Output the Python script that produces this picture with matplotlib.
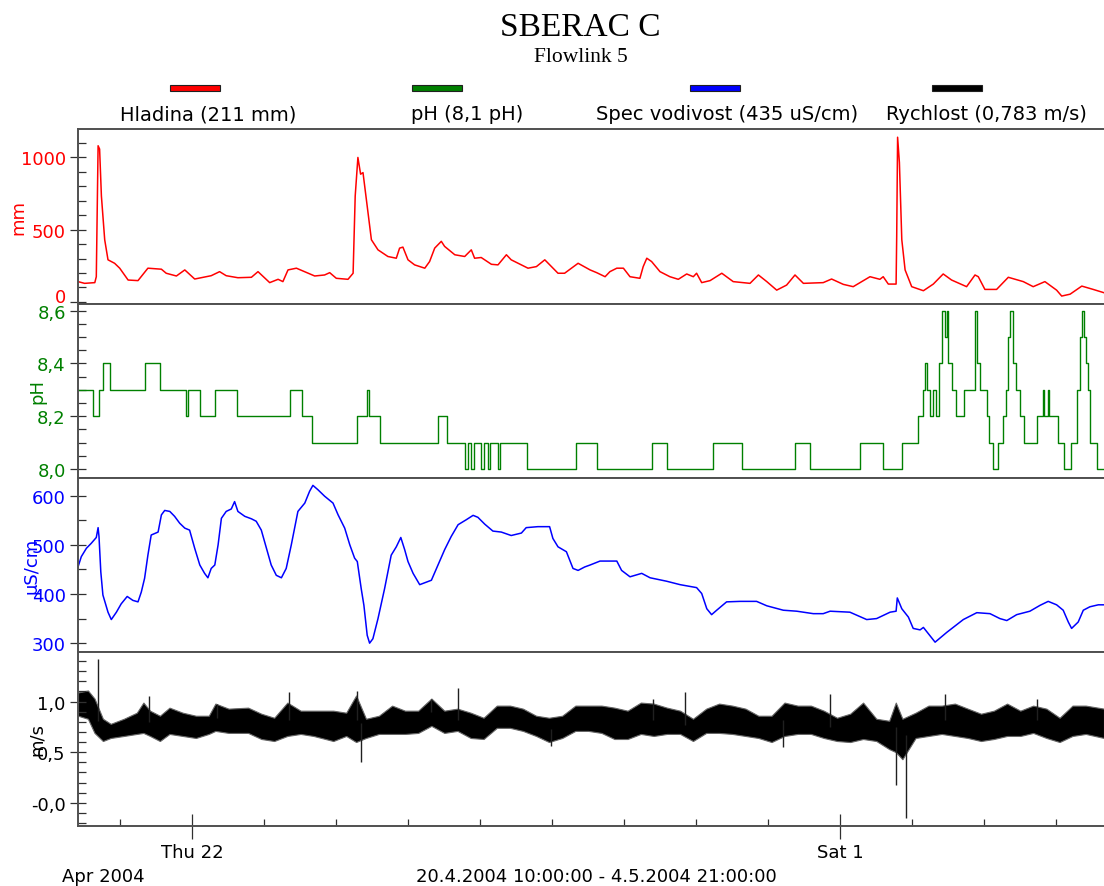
import numpy as np
import pandas as pd
import matplotlib as mpl; mpl.use('Agg')
import matplotlib.pyplot as plt
import matplotlib.dates as mdates
import matplotlib.transforms as mtrans
from matplotlib.ticker import FixedLocator, MultipleLocator, FuncFormatter
from matplotlib.patches import Rectangle

plt.rcParams['font.family'] = ['DejaVu Sans']
RED, GRN, BLU, BLK = '#ff0000', '#008000', '#0000ff', '#000000'
SPN = '#505050'
START = pd.Timestamp('2004-04-20 10:00')

# Hladina (mm): hours since start / value
mm_h = [0, 2.2, 5.6, 6.1, 6.7, 7.2, 7.8, 8.9, 10, 12.2, 13.9, 16.7, 20, 23.3, 27.8, 29.4, 32.8, 35.6, 38.9,
        44.4, 47.2, 49.4, 53.3, 57.8, 60, 63.9, 66.7, 68.3, 70, 72.8, 76.7, 78.9, 82.2, 83.9, 86.1, 90, 91.7,
        92.4, 93.3, 94.2, 95, 96.7, 97.8, 100, 103.3, 106.1, 107.2, 108.3, 110, 112.2, 115.6, 117.2, 118.9,
        121.1, 122.2, 125.6, 128.9, 131.1, 132.2, 134.4, 137.8, 140, 142.8, 144.4, 147.8, 150, 152.8, 155.6,
        160, 162.2, 166.7, 170.7, 172.9, 175.7, 177.3, 179.6, 181.8, 184, 187.3, 188.4, 189.6, 191.2, 194,
        197.3, 200.1, 202.9, 205.1, 206.2, 207.9, 210.7, 214.6, 218.4, 224, 226.8, 229.6, 232.9, 236.2, 239,
        241.8, 248.4, 251.2, 255.1, 258.4, 264, 267.3, 268.4, 270.1, 272.7, 272.9, 273.2, 273.8, 274.6, 275.7,
        277.9, 281.8, 285.1, 288.4, 291.2, 296.2, 299, 300.1, 302.3, 306.2, 310.1, 315.1, 318.4, 322.3, 326.2,
        327.9, 330.7, 334.6, 338.4, 342]
mm_v = [140, 128, 133, 174, 1081, 1058, 733, 430, 291, 267, 233, 151, 147, 233, 226, 198, 179, 221, 158,
        181, 209, 181, 167, 170, 209, 133, 156, 140, 221, 233, 198, 179, 186, 202, 163, 156, 198,
        733, 1000, 884, 895, 616, 430, 360, 314, 302, 372, 379, 291, 256, 233, 279, 372,
        419, 384, 326, 314, 360, 302, 307, 260, 256, 326, 291, 256, 233, 244, 291,
        198, 198, 267, 221, 202, 174, 209, 233, 233, 174, 163, 244, 302, 279, 209,
        174, 156, 193, 174, 198, 133, 147, 198, 140, 128, 186, 140, 81, 116, 186,
        128, 133, 158, 121, 105, 174, 156, 174, 123, 123, 453, 1140, 965, 430, 221,
        105, 77, 123, 193, 151, 105, 186, 174, 86, 86, 170, 140, 105, 140, 81,
        40, 53, 109, 86, 63]

# pH: change points (hours) / level
ph_h = [0, 5, 7, 8.3, 10.7, 22.3, 27.3, 36, 36.7, 40.7, 45.7, 53, 70.7, 74.7, 78, 93, 96.3, 97, 100.7,
        120, 123, 129, 130, 131, 132, 134.3, 135.3, 136.7, 137.3, 140, 140.7, 149.7, 166, 173, 191.3, 196.3,
        211.7, 221.3, 239, 244, 260.7, 268.3, 274.7, 280, 281.7, 282.3, 283, 284, 285, 286, 287, 288, 289,
        289.7, 290, 291.3, 292.7, 295.3, 299, 299.7, 300.7, 303, 303.7, 305, 306.7, 308.3, 309.3, 310, 310.7,
        311.7, 312.7, 314, 315.3, 319.7, 321.7, 322, 323.3, 323.7, 326.7, 328.7, 331, 333, 334, 334.7, 335.3,
        336, 336.7, 337.3, 339.7, 342]
ph_v = [8.3, 8.2, 8.3, 8.4, 8.3, 8.4, 8.3, 8.2, 8.3, 8.2, 8.3, 8.2, 8.3, 8.2, 8.1, 8.2, 8.3, 8.2, 8.1,
        8.2, 8.1, 8.0, 8.1, 8.0, 8.1, 8.0, 8.1, 8.0, 8.1, 8.0, 8.1, 8.0, 8.1, 8.0, 8.1, 8.0,
        8.1, 8.0, 8.1, 8.0, 8.1, 8.0, 8.1, 8.2, 8.3, 8.4, 8.3, 8.2, 8.3, 8.2, 8.4, 8.6, 8.5,
        8.6, 8.4, 8.3, 8.2, 8.3, 8.6, 8.4, 8.3, 8.2, 8.1, 8.0, 8.1, 8.2, 8.3, 8.5, 8.6,
        8.4, 8.3, 8.2, 8.1, 8.2, 8.3, 8.2, 8.3, 8.2, 8.1, 8.0, 8.1, 8.3, 8.5, 8.6, 8.5,
        8.4, 8.3, 8.1, 8.0, 8.0]

# Spec vodivost (uS/cm)
sv_h = [0, 1.1, 2.8, 4.4, 6.1, 6.7, 7, 7.6, 8.3, 10, 11.1, 12.8, 14.4, 16.4, 18.3, 20, 21.1, 22.2, 23.3,
        24.4, 26.7, 27.8, 28.9, 30.6, 32.2, 33.9, 35.6, 37.2, 38.9, 40.6, 42.2, 43.3, 44.4, 45.6, 46.7, 47.8,
        49.4, 51.1, 52.2, 53.3, 55.6, 57.8, 59.4, 61.1, 62.8, 64.4, 66.1, 67.8, 69.4, 71.1, 73.3, 75.6, 77.2,
        78.3, 80, 82.2, 85, 86.7, 88.9, 90.6, 92.2, 93.1, 94.4, 95.3, 96.4, 97.2, 98.3, 100, 102.2, 104.4,
        106.1, 107.6, 108.9, 110, 111.7, 113.9, 115.6, 117.8, 120, 122.2, 124.4, 126.7, 129.4, 131.7, 133.3,
        135.6, 138.3, 141.1, 144.4, 147.8, 149.4, 153.3, 157.2, 158.3, 160, 162.8, 165, 166.7, 168.9, 170.7,
        174, 179.6, 181.2, 184, 187.9, 190.7, 196.2, 200.7, 206.2, 207.9, 209.6, 211.2, 212.9, 216.2, 220.7,
        226.2, 229.6, 235.1, 239.6, 245.1, 248.4, 250.7, 257.3, 262.9, 266.2, 270.7, 272.7, 273.1, 274.6,
        276.8, 278.4, 280.7, 281.8, 285.7, 289.6, 295.1, 299.6, 304, 307.3, 309.6, 312.9, 317.3, 320.7,
        323.4, 326.2, 328.4, 330.1, 331.2, 333.4, 335.1, 337.3, 340.1, 342]
sv_v = [455, 476, 493, 503, 515, 535, 517, 445, 398, 363, 348, 363, 380, 395, 387, 384, 404, 432, 479,
        520, 526, 561, 570, 568, 558, 544, 534, 530, 493, 459, 442, 433, 452, 459, 500, 554,
        568, 573, 588, 568, 558, 553, 548, 530, 493, 459, 438, 433, 452, 500, 568, 585, 609,
        621, 612, 599, 585, 561, 534, 500, 473, 466, 411, 377, 316, 300, 309, 350, 411, 479,
        496, 515, 490, 466, 442, 419, 423, 428, 459, 490, 517, 541, 551, 560, 556,
        542, 528, 526, 519, 524, 535, 537, 537, 513, 496, 486, 452, 448, 455, 459,
        467, 467, 448, 435, 442, 433, 426, 419, 413, 401, 370, 358, 367, 384, 385,
        385, 376, 367, 365, 360, 360, 365, 363, 348, 350, 363, 365, 392, 370,
        353, 330, 327, 332, 302, 322, 348, 362, 360, 350, 346, 358, 365, 377,
        385, 378, 367, 343, 330, 343, 367, 374, 378, 378]

# Rychlost (m/s): noisy record given as its envelope, plus single spikes
ry_h = [0, 3.3, 5.5, 8.3, 10.9, 15.3, 19.6, 21.8, 24, 27.3, 30.5, 34.9, 39.3, 43.6, 45.8, 50.2, 56.7, 61.1,
        65.4, 69.8, 74.2, 78.5, 85.1, 89.4, 92.7, 96, 100.3, 104.7, 109, 113.4, 117.8, 122.1, 126.5, 130.9,
        135.2, 139.6, 144, 148.3, 152.7, 157, 161.4, 165.8, 170.1, 174.5, 178.8, 183.2, 187.6, 191.9, 196.3,
        200.7, 205, 209.4, 213.7, 218.1, 222.5, 226.8, 231.2, 235.5, 239.9, 244.3, 248.6, 253, 257.4, 261.7,
        266.1, 270.4, 272.6, 274.8, 279.2, 283.5, 287.9, 292.3, 296.6, 301, 305.3, 309.7, 314.1, 318.4, 322.8,
        327.2, 331.5, 335.9, 342]
ry_hi = [1.09, 1.11, 1.03, 0.83, 0.78, 0.83, 0.89, 0.99, 0.91, 0.86, 0.94, 0.89, 0.86, 0.86, 0.98, 0.93, 0.94, 0.88,
         0.84, 0.99, 0.91, 0.91, 0.91, 0.89, 1.06, 0.83, 0.86, 0.96, 0.91, 0.91, 1.03, 0.91, 0.93, 0.89,
         0.84, 0.96, 0.96, 0.93, 0.86, 0.84, 0.86, 0.96, 0.96, 0.96, 0.94, 0.91, 0.99, 0.98, 0.94,
         0.91, 0.83, 0.93, 0.98, 0.96, 0.93, 0.86, 0.86, 0.99, 0.96, 0.96, 0.91, 0.84, 0.88, 0.99,
         0.83, 0.81, 0.99, 0.83, 0.89, 0.96, 0.96, 0.98, 0.93, 0.88, 0.91, 0.98, 0.91, 0.96, 0.93,
         0.84, 0.96, 0.96, 0.93]
ry_lo = [0.86, 0.83, 0.69, 0.61, 0.64, 0.66, 0.68, 0.69, 0.66, 0.61, 0.68, 0.66, 0.64, 0.68, 0.71, 0.69, 0.69, 0.63,
         0.61, 0.66, 0.68, 0.66, 0.61, 0.66, 0.60, 0.64, 0.68, 0.68, 0.68, 0.69, 0.76, 0.69, 0.71, 0.64,
         0.63, 0.74, 0.74, 0.71, 0.66, 0.60, 0.64, 0.71, 0.71, 0.69, 0.63, 0.63, 0.68, 0.66, 0.68,
         0.68, 0.61, 0.69, 0.69, 0.68, 0.66, 0.64, 0.60, 0.66, 0.68, 0.68, 0.64, 0.61, 0.60, 0.63,
         0.61, 0.53, 0.50, 0.43, 0.64, 0.66, 0.68, 0.66, 0.64, 0.61, 0.63, 0.66, 0.66, 0.69, 0.64,
         0.60, 0.66, 0.68, 0.64]
spk_h = [6.5, 23.6, 46.2, 70.2, 93.1, 94.2, 117.8, 126.5, 157.7, 191.5, 202.2, 235.1, 250.8, 272.6, 276.1, 289, 319.5]
spk_v = [1.42, 1.06, 0.98, 1.09, 1.10, 0.40, 1.03, 1.13, 0.56, 1.03, 1.09, 0.55, 1.07, 0.18, -0.15, 1.07, 1.03]

legend = ['Hladina (211 mm)', 'pH (8,1 pH)', 'Spec vodivost (435 uS/cm)', 'Rychlost (0,783 m/s)']


def t(h):
    return START + pd.to_timedelta(np.asarray(h, float), unit='h')


W, H = 1104, 887
fig = plt.figure(figsize=(W / 100, H / 100), dpi=100)
rows = [(130, 305), (305, 479), (479, 653), (653, 827)]
axes = [fig.add_axes([78 / W, 1 - b / H, 1 - 78 / W, (b - a) / H]) for a, b in rows]
x0, x1 = START, START + pd.Timedelta(hours=342)

for ax in axes:
    ax.set_xlim(x0, x1)
    for s in ('top', 'bottom', 'left'):
        ax.spines[s].set_color(SPN); ax.spines[s].set_linewidth(1.4)
    ax.spines['right'].set_visible(False)
    ax.tick_params(axis='x', which='both', bottom=False, labelbottom=False)
    ax.tick_params(axis='y', which='major', direction='inout', length=11.5, width=0.9, color='#303030', pad=3, labelsize=13)
    ax.tick_params(axis='y', which='minor', direction='in', length=6, width=0.9, color='#303030')

a1, a2, a3, a4 = axes
a1.plot(t(mm_h), mm_v, color=RED, lw=1.1)
a1.set_ylim(-15, 1197); a1.yaxis.set_major_locator(FixedLocator([0, 500, 1000])); a1.yaxis.set_minor_locator(MultipleLocator(100))

a2.plot(t(ph_h), ph_v, color=GRN, lw=1.0, drawstyle='steps-post')
a2.set_ylim(7.966, 8.625); a2.yaxis.set_major_locator(FixedLocator([8.0, 8.2, 8.4, 8.6])); a2.yaxis.set_minor_locator(MultipleLocator(0.05))

a3.plot(t(sv_h), sv_v, color=BLU, lw=1.1)
a3.set_ylim(282, 636); a3.yaxis.set_major_locator(FixedLocator([300, 400, 500, 600])); a3.yaxis.set_minor_locator(MultipleLocator(50))

a4.fill_between(t(ry_h), ry_lo, ry_hi, facecolor=BLK, lw=0.8, edgecolor='#666666')
mid = np.interp(spk_h, ry_h, (np.array(ry_lo) + np.array(ry_hi)) / 2)
a4.vlines(t(spk_h), mid, spk_v, color='#202020', lw=1.0)
a4.set_ylim(-0.23, 1.49); a4.yaxis.set_major_locator(FixedLocator([0.0, 0.5, 1.0])); a4.yaxis.set_minor_locator(MultipleLocator(0.1))

a1.yaxis.set_major_formatter(FuncFormatter(lambda v, p: '%d' % v))
a2.yaxis.set_major_formatter(FuncFormatter(lambda v, p: ('%.1f' % v).replace('.', ',')))
a3.yaxis.set_major_formatter(FuncFormatter(lambda v, p: '%d' % v))
a4.yaxis.set_major_formatter(FuncFormatter(lambda v, p: ('%.1f' % v).replace('.', ',') if v > 0.01 else '-0,0'))

# the axis titles sit over the tick labels, as in the original export
for ax, c, lab, lx in [(a1, RED, 'mm', -0.049), (a2, GRN, 'pH', -0.031), (a3, BLU, 'µS/cm', -0.037), (a4, BLK, 'm/s', -0.031)]:
    ax.tick_params(axis='y', labelcolor=c)
    ax.set_ylabel(lab, color=c, fontsize=13)
    ax.yaxis.set_label_coords(lx, 0.5)

# the "0" of the level axis is lifted clear of the panel edge
t0 = a1.yaxis.get_major_ticks()[0].label1
t0.set_transform(t0.get_transform() + mtrans.ScaledTranslation(0, 7 / 100, fig.dpi_scale_trans))

# time axis on the bottom panel
a4.tick_params(axis='x', which='both', bottom=True, labelbottom=True)
a4.xaxis.set_major_locator(FixedLocator(mdates.date2num([pd.Timestamp('2004-04-22'), pd.Timestamp('2004-05-01')])))
a4.xaxis.set_major_formatter(FuncFormatter(lambda v, p: mdates.num2date(v).strftime('%a ') + str(mdates.num2date(v).day)))
a4.xaxis.set_minor_locator(mdates.DayLocator())
a4.tick_params(axis='x', which='major', direction='inout', length=18, width=0.9, color='#303030', pad=3, labelsize=13)
a4.tick_params(axis='x', which='minor', direction='in', length=5, width=0.9, color='#303030')

fig.text(62 / W, 1 - 877 / H, 'Apr 2004', fontsize=13, ha='left', va='center')
fig.text(596 / W, 1 - 877 / H, '20.4.2004 10:00:00 - 4.5.2004 21:00:00', fontsize=13, ha='center', va='center')

# title and legend row
fig.text(580 / W, 1 - 28 / H, 'SBERAC C', fontsize=24, family='Liberation Serif', ha='center', va='center')
fig.text(581 / W, 1 - 58 / H, 'Flowlink 5', fontsize=15.5, family='Liberation Serif', ha='center', va='center')
for lab, c, bx, tx in zip(legend, [RED, GRN, BLU, BLK], [170, 412, 690, 932], [208, 467, 727, 986]):
    fig.patches.append(Rectangle((bx / W, 1 - 92 / H), 50 / W, 6 / H, transform=fig.transFigure,
                                 facecolor=c, edgecolor='#202020', lw=0.8))
    fig.text(tx / W, 1 - 115 / H, lab, fontsize=14, ha='center', va='center')

fig.savefig('out.png', dpi=100)
